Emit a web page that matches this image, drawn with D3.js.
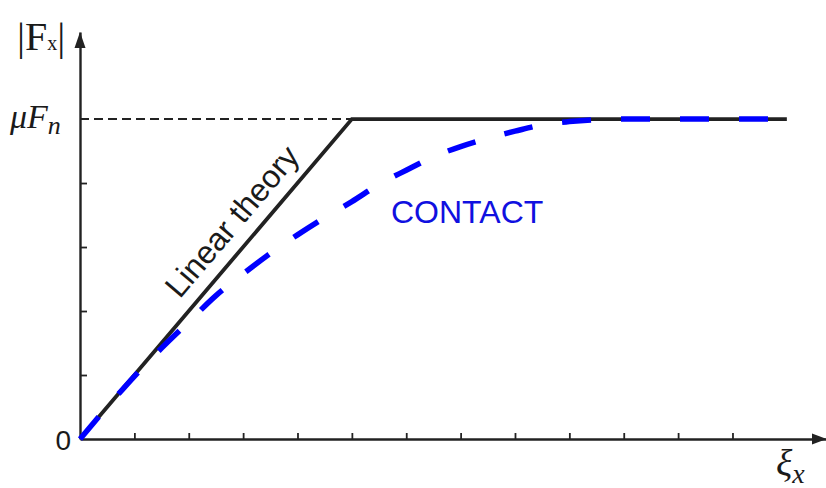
<!DOCTYPE html>
<html>
<head>
<meta charset="utf-8">
<script src="https://cdn.jsdelivr.net/npm/d3@7"></script>
<style>
  body { margin: 0; background: #fff; }
  svg { display: block; }
</style>
</head>
<body>
<div id="chart"></div>
<script>
// data (x in tick units, y in tick units, muFn = 5)
var xTicks = [1, 2, 3, 4, 5, 6, 7, 8, 9, 10, 11, 12];
var yTicks = [1, 2, 3, 4];
var muFn = 5;

var linearX = [0, 5, 13];
var linearY = [0, 5, 5];

var contactX = [0, 0.5, 1, 1.5, 2, 2.5, 3, 3.5, 4, 4.5, 5, 5.5, 6, 6.5, 7, 7.5, 8, 8.5, 9, 9.5, 10, 11, 12, 13];
var contactY = [0, 0.5, 0.98, 1.42, 1.83, 2.24, 2.58, 2.9, 3.19, 3.46, 3.71, 3.98, 4.2, 4.41, 4.57, 4.7, 4.81, 4.91, 4.96, 4.99, 5, 5, 5, 5];

// set the dimensions
var width = 826, height = 488;

var x = d3.scaleLinear().domain([0, 13.72]).range([80, 826]);
var y = d3.scaleLinear().domain([0, 6.36]).range([439, 32]);

var svg = d3.select("#chart").append("svg")
    .attr("width", width)
    .attr("height", height);

var ink = "#222";

// X axis (ticks pointing up, no labels)
svg.append("g")
    .attr("transform", "translate(0," + y(0) + ")")
    .call(d3.axisBottom(x).tickValues(xTicks).tickSize(-6).tickSizeOuter(0).tickFormat(""))
    .call(function(g) {
      g.select(".domain").attr("stroke", ink).attr("stroke-width", 2.4);
      g.selectAll(".tick line").attr("stroke", ink).attr("stroke-width", 1.8);
    });

// Y axis (ticks pointing right)
svg.append("g")
    .attr("transform", "translate(" + x(0) + ",0)")
    .call(d3.axisLeft(y).tickValues(yTicks).tickSize(-7).tickSizeOuter(0).tickFormat(""))
    .call(function(g) {
      g.select(".domain").attr("stroke", ink).attr("stroke-width", 2.4);
      g.selectAll(".tick line").attr("stroke", ink).attr("stroke-width", 1.8);
    });

// arrow heads
var ax = x(0), ay = y(0);
svg.append("path")
    .attr("d", "M" + ax + "," + (y.range()[1]) + "L" + (ax - 5.5) + "," + (y.range()[1] + 16) + "L" + (ax + 5.5) + "," + (y.range()[1] + 16) + "Z")
    .attr("fill", ink);
svg.append("path")
    .attr("d", "M" + (x.range()[1] + 1) + "," + ay + "L" + (x.range()[1] - 14) + "," + (ay - 5.5) + "L" + (x.range()[1] - 14) + "," + (ay + 5.5) + "Z")
    .attr("fill", ink);

// dashed level line at muFn
svg.append("line")
    .attr("x1", x(0)).attr("x2", x(linearX[1]))
    .attr("y1", y(muFn)).attr("y2", y(muFn))
    .attr("stroke", ink)
    .attr("stroke-width", 2)
    .attr("stroke-dasharray", "9,5");

// Add the linear theory line
var linearData = linearX.map(function(d, i) { return [d, linearY[i]]; });
svg.append("path")
    .datum(linearData)
    .attr("d", d3.line().x(function(d) { return x(d[0]); }).y(function(d) { return y(d[1]); }))
    .attr("fill", "none")
    .attr("stroke", ink)
    .attr("stroke-width", 3.8)
    .attr("stroke-linejoin", "miter");

// Add the CONTACT curve
var contactData = contactX.map(function(d, i) { return [d, contactY[i]]; });
svg.append("path")
    .datum(contactData)
    .attr("d", d3.line().curve(d3.curveMonotoneX).x(function(d) { return x(d[0]); }).y(function(d) { return y(d[1]); }))
    .attr("fill", "none")
    .attr("stroke", "#0000ff")
    .attr("stroke-width", 5.5)
    .attr("stroke-dasharray", "29,30")
    .attr("stroke-dashoffset", 0);

// annotations
var angle = -Math.atan2(y(0) - y(5), x(5) - x(0)) * 180 / Math.PI;
var tx = x(3.15) - 11, ty = y(3.15) - 9;
svg.append("text")
    .attr("transform", "translate(" + tx + "," + ty + ") rotate(" + angle + ")")
    .attr("text-anchor", "middle")
    .style("font-family", "Liberation Sans, Arial, sans-serif")
    .style("font-size", "32px")
    .attr("fill", "#1a1a1a")
    .text("Linear theory");

svg.append("text")
    .attr("x", 391).attr("y", 223)
    .style("font-family", "Liberation Sans, Arial, sans-serif")
    .style("font-size", "32px")
    .attr("fill", "#1010e0")
    .text("CONTACT");

svg.append("text")
    .attr("x", 71).attr("y", 450)
    .attr("text-anchor", "end")
    .style("font-family", "Liberation Sans, Arial, sans-serif")
    .style("font-size", "28px")
    .attr("fill", "#1a1a1a")
    .text("0");

// y axis title |Fx|
var yt = svg.append("text")
    .attr("x", 17).attr("y", 50)
    .style("font-family", "Liberation Serif, Times New Roman, serif")
    .style("font-size", "40px")
    .attr("fill", "#1a1a1a");
yt.append("tspan").text("|F");
yt.append("tspan").style("font-size", "20px").attr("dy", 0).text("x");
yt.append("tspan").attr("dy", 0).text("|");

// muFn
var mt = svg.append("text")
    .attr("x", 10).attr("y", 128)
    .style("font-family", "Liberation Serif, Times New Roman, serif")
    .style("font-style", "italic")
    .style("font-size", "34px")
    .attr("fill", "#1a1a1a");
mt.append("tspan").text("\u03bcF");
mt.append("tspan").style("font-size", "26px").attr("dy", 6).text("n");

// xi_x
var xt = svg.append("text")
    .attr("x", 776).attr("y", 476)
    .style("font-family", "Liberation Serif, Times New Roman, serif")
    .style("font-style", "italic")
    .style("font-size", "38px")
    .attr("fill", "#1a1a1a");
xt.append("tspan").text("\u03be");
xt.append("tspan").style("font-size", "28px").attr("dy", 7).text("x");
</script>
</body>
</html>
